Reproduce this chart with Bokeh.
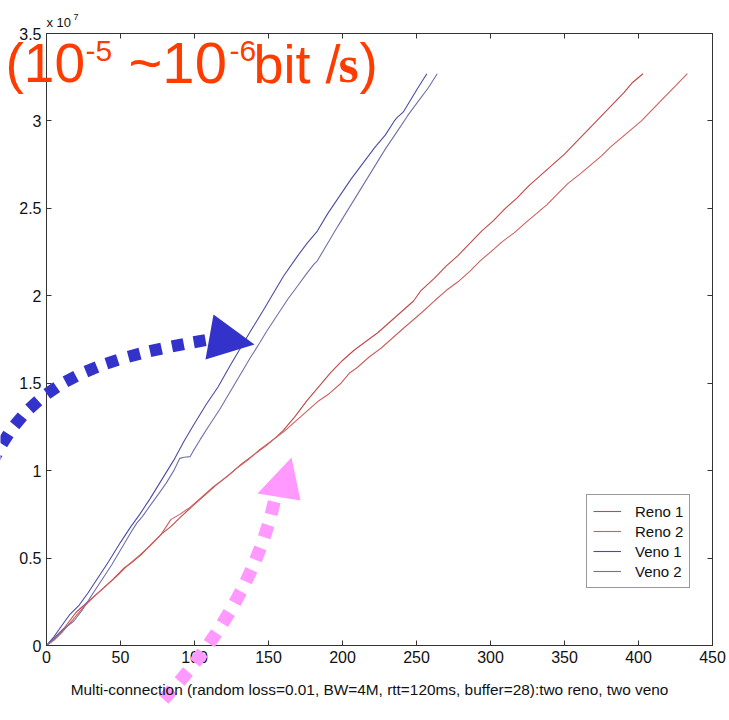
import numpy as np
from bokeh.plotting import figure
from bokeh.models import (Range1d, FixedTicker, LinearAxis, CustomJSTickFormatter,
                          Legend, LegendItem, Label, GridBox)
from bokeh.embed import file_html
from bokeh.resources import INLINE

# ---------------- data (x: time, y: bits transferred in units of 1e7) ----------------
reno1_x = [0, 6, 12, 20, 28, 36, 45, 52, 57, 64, 72, 78, 84, 90, 99, 107, 115, 124, 132, 140,
           148, 155, 160, 168, 176, 184, 192, 200, 208, 216, 224, 232, 240, 248, 253, 262, 270,
           278, 286, 294, 302, 310, 318, 326, 334, 342, 350, 358, 366, 374, 382, 390, 396, 403]
reno1_y = [0, 0.05, 0.10, 0.19, 0.25, 0.31, 0.38, 0.44, 0.47, 0.52, 0.59, 0.64, 0.68, 0.73, 0.80,
           0.86, 0.92, 0.98, 1.04, 1.09, 1.14, 1.19, 1.23, 1.31, 1.40, 1.48, 1.56, 1.63, 1.69,
           1.74, 1.79, 1.85, 1.91, 1.97, 2.03, 2.10, 2.17, 2.23, 2.30, 2.37, 2.43, 2.50, 2.56,
           2.63, 2.69, 2.75, 2.81, 2.88, 2.95, 3.02, 3.09, 3.16, 3.22, 3.27]

reno2_x = [0, 5, 11, 18, 25, 32, 40, 48, 55, 62, 70, 77, 84, 90, 97, 105, 113, 121, 128, 136,
           144, 152, 160, 168, 176, 184, 191, 199, 205, 210, 218, 226, 234, 242, 253, 262, 270,
           278, 286, 293, 300, 308, 316, 324, 331, 338, 345, 352, 361, 368, 375, 381, 388, 395,
           402, 410, 418, 425, 433]
reno2_y = [0, 0.03, 0.08, 0.15, 0.22, 0.28, 0.34, 0.40, 0.46, 0.51, 0.57, 0.63, 0.72, 0.75, 0.79,
           0.85, 0.91, 0.96, 1.01, 1.06, 1.12, 1.17, 1.22, 1.28, 1.34, 1.40, 1.44, 1.50, 1.56,
           1.59, 1.65, 1.70, 1.76, 1.82, 1.90, 1.97, 2.03, 2.08, 2.14, 2.20, 2.25, 2.31, 2.36,
           2.42, 2.47, 2.52, 2.58, 2.64, 2.70, 2.75, 2.80, 2.85, 2.90, 2.95, 3.00, 3.07, 3.14,
           3.20, 3.27]

veno1_x = [0, 5, 10, 16, 22, 28, 35, 42, 50, 57, 63, 70, 78, 86, 93, 100, 108, 116, 124, 131,
           138, 146, 153, 160, 169, 176, 183, 190, 198, 206, 214, 222, 229, 235, 237, 241, 246,
           251, 257]
veno1_y = [0, 0.05, 0.11, 0.18, 0.23, 0.30, 0.39, 0.48, 0.59, 0.68, 0.75, 0.84, 0.95, 1.06, 1.17,
           1.27, 1.38, 1.48, 1.60, 1.70, 1.80, 1.91, 2.01, 2.11, 2.22, 2.30, 2.37, 2.47, 2.57,
           2.67, 2.76, 2.85, 2.92, 3.00, 3.02, 3.05, 3.12, 3.19, 3.27]

veno2_x = [0, 4, 9, 14, 18.5, 24, 30, 37, 44, 51, 58, 61, 65, 70, 76, 81, 86, 90, 93, 97, 99,
           104, 110, 117, 124, 131, 138, 144, 149, 156, 163, 170, 176, 180.6, 183, 190, 197,
           205, 213, 221, 229, 237, 244, 251, 258, 264]
veno2_y = [0, 0.03, 0.07, 0.11, 0.14, 0.20, 0.28, 0.37, 0.46, 0.56, 0.66, 0.70, 0.74, 0.80, 0.87,
           0.93, 1.00, 1.07, 1.077, 1.08, 1.11, 1.18, 1.26, 1.35, 1.45, 1.55, 1.65, 1.73, 1.80,
           1.89, 1.98, 2.06, 2.13, 2.18, 2.20, 2.30, 2.40, 2.51, 2.62, 2.73, 2.84, 2.94, 3.03,
           3.11, 3.19, 3.27]

series_names = ["Reno 1", "Reno 2", "Veno 1", "Veno 2"]
x_ticks = [0, 50, 100, 150, 200, 250, 300, 350, 400, 450]
y_ticks = [0, 0.5, 1, 1.5, 2, 2.5, 3, 3.5]
caption = "Multi-connection (random loss=0.01, BW=4M, rtt=120ms, buffer=28):two reno, two veno"

# ---------------- layout ----------------
W, H = 729, 720
BL, BR, BT, BB = 46, 17, 33, 75
FONT = "Liberation Sans"
AX = "#333333"

p = figure(width=W, height=H, output_backend="svg", toolbar_location=None,
           x_range=Range1d(0, 450), y_range=Range1d(0, 3.5),
           min_border_left=BL, min_border_right=BR, min_border_top=BT, min_border_bottom=BB)
p.frame_align = False
p.grid.visible = False
p.title.visible = False
p.outline_line_color = AX
p.outline_line_width = 1
p.background_fill_color = "white"
p.border_fill_color = "white"

fmt = CustomJSTickFormatter(code="return (Math.round(tick*10)/10).toString();")
blank = CustomJSTickFormatter(code="return '';")
for ax, ticks in ((p.xaxis[0], x_ticks), (p.yaxis[0], y_ticks)):
    ax.ticker = FixedTicker(ticks=ticks)
    ax.major_tick_in = 5
    ax.major_tick_out = 0
    ax.minor_tick_line_color = None
    ax.axis_line_color = AX
    ax.major_tick_line_color = AX
    ax.major_label_text_font = FONT
    ax.major_label_text_font_size = "16px"
    ax.major_label_text_color = "#111111"
    ax.major_label_standoff = 5
    ax.formatter = fmt

for loc, ticks in (("above", x_ticks), ("right", y_ticks)):
    a = LinearAxis(ticker=FixedTicker(ticks=ticks), formatter=blank,
                   major_tick_in=5, major_tick_out=0,
                   minor_tick_line_color=None, axis_line_color=None,
                   major_tick_line_color=AX, major_label_standoff=0)
    p.add_layout(a, loc)

colors = ["#c04848", "#cc6060", "#4c4ca4", "#7070aa"]
data = [(reno1_x, reno1_y), (reno2_x, reno2_y), (veno1_x, veno1_y), (veno2_x, veno2_y)]
items = []
for name, (xs, ys), c in zip(series_names, data, colors):
    r = p.line(xs, ys, line_color=c, line_width=1.1)
    items.append(LegendItem(label=name, renderers=[r]))

legend = Legend(items=items, location=(540, 57))
legend.border_line_color = AX
legend.border_line_width = 1
legend.background_fill_color = "white"
legend.background_fill_alpha = 1
legend.label_text_font = FONT
legend.label_text_font_size = "15px"
legend.label_text_color = "#111111"
legend.label_height = 20
legend.glyph_height = 20
legend.glyph_width = 28
legend.label_standoff = 14
legend.padding = 6
legend.spacing = 0
legend.margin = 0
p.add_layout(legend, "center")

# ---------------- overlay canvas (pixel coordinates, y downwards) ----------------
ov = figure(width=W, height=H, output_backend="svg", toolbar_location=None,
            x_range=Range1d(0, W), y_range=Range1d(H, 0),
            x_axis_type=None, y_axis_type=None, min_border=0,
            min_border_left=0, min_border_right=0, min_border_top=0, min_border_bottom=0,
            background_fill_color=None, border_fill_color=None,
            outline_line_color=None)
ov.frame_align = False
ov.title.visible = False


def add_label(text, px, baseline, size, color="#111111", font=FONT, style="normal",
              align="left"):
    # Label places alphabetic text about 0.37em lower than asked; compensate
    fs = float(size.replace("px", ""))
    ov.add_layout(Label(x=px, y=baseline - 0.37 * fs, text=text, text_font=font,
                        text_font_size=size, text_color=color,
                        text_baseline="alphabetic", text_align=align,
                        text_font_style=style))


# x-axis caption (centred as in the reference)
add_label(caption, 369, 695, "15.4px", align="center")

add_label("x 10", 46, 27, "13px")
add_label("7", 73, 20, "9px")

RED = "#ff3c00"
add_label("(10", 5, 83, "55px", RED)
add_label("-5", 85, 62, "30px", RED)
add_label("~10", 128, 83, "58px", RED)
add_label("-6", 229, 62, "30px", RED)
add_label("bit /", 253, 83, "54px", RED)
add_label("s", 338, 83, "52px", RED, font="Liberation Serif", style="bold")
add_label(")", 359, 83, "55px", RED)


def bezier(P, n=400):
    t = np.linspace(0, 1, n)[:, None]
    P = np.asarray(P, float)
    return ((1 - t) ** 3 * P[0] + 3 * (1 - t) ** 2 * t * P[1]
            + 3 * (1 - t) * t ** 2 * P[2] + t ** 3 * P[3])


def dotted(P, gap, size, color, first):
    pts = bezier(P)
    seg = np.hypot(*np.diff(pts, axis=0).T)
    s = np.concatenate([[0], np.cumsum(seg)])
    centers = np.arange(s[-1] - first, 0, -gap)
    x0, y0, x1, y1 = [], [], [], []
    for c in centers:
        i = min(np.searchsorted(s, c), len(pts) - 2)
        d = pts[i + 1] - pts[i]
        d = d / np.hypot(*d)
        a = pts[i] - d * size / 2
        b = pts[i] + d * size / 2
        x0.append(a[0]); y0.append(a[1]); x1.append(b[0]); y1.append(b[1])
    ov.segment(x0, y0, x1, y1, line_color=color, line_width=size, line_cap="butt")


BLUE = "#3333cc"
PINK = "#ff99ff"
dotted([(-8, 462), (30, 380), (100, 358), (203, 340)], 22.5, 12, BLUE, first=4)
ov.patch([213, 205, 254], [314, 359, 344], fill_color=BLUE, line_color=None)

dotted([(160, 702), (205, 655), (255, 585), (274, 500)], 24, 13, PINK, first=8)
ov.patch([291, 257, 300], [457, 493, 500], fill_color=PINK, line_color=None)

layout = GridBox(children=[(p, 0, 0), (ov, 0, 0)])
open("out.html", "w").write(file_html(layout, INLINE))
